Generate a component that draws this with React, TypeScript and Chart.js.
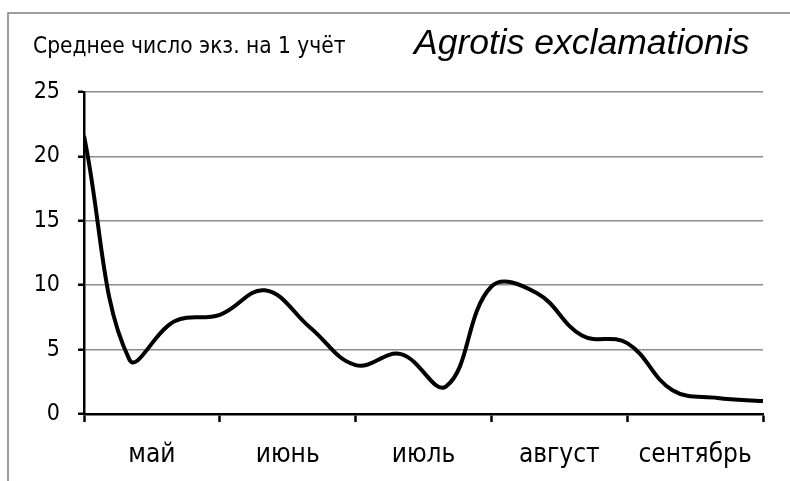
import React, { useEffect, useRef } from "react";
import { Chart, registerables } from "chart.js";

Chart.register(...registerables);

const yAxisTitle = "Среднее число экз. на 1 учёт";
const speciesTitle = "Agrotis exclamationis";
const monthLabels = ["май", "июнь", "июль", "август", "сентябрь"];
// observations, roughly every 10 days (3 per month), from start of May to end of September
const sampleIndex = [0, 1, 2, 3, 4, 5, 6, 7, 8, 9, 10, 11, 12, 13, 14, 15];
const meanCount = [21.6, 4.25, 7.2, 7.7, 9.6, 6.7, 3.8, 4.65, 2.15, 9.9, 9.4, 6.1, 5.5, 1.85, 1.25, 1.0];
const yTicks = [0, 5, 10, 15, 20, 25];

const NARROW = '"Liberation Sans Narrow", "DejaVu Sans Condensed", sans-serif';

export default function App() {
  const ref = useRef<HTMLCanvasElement>(null);
  useEffect(() => {
    if (!ref.current) return;
    const decor = {
      id: "decor",
      beforeDraw(chart: any) {
        const ctx = chart.ctx;
        ctx.save();
        ctx.fillStyle = "#ffffff";
        ctx.fillRect(0, 0, chart.width, chart.height);
        ctx.strokeStyle = "#7f7f7f";
        ctx.lineWidth = 1.5;
        ctx.beginPath();
        ctx.moveTo(8, chart.height);
        ctx.lineTo(8, 13);
        ctx.lineTo(chart.width, 13);
        ctx.stroke();
        ctx.fillStyle = "#000";
        ctx.textBaseline = "alphabetic";
        ctx.textAlign = "left";
        ctx.font = "22.5px " + NARROW;
        ctx.fillText(yAxisTitle, 33, 53);
        ctx.font = "italic 35.5px \"Liberation Sans\", Arial, sans-serif";
        ctx.fillText(speciesTitle, 414, 54);
        ctx.restore();
      },
    };
    const chart = new Chart(ref.current, {
      type: "line",
      data: {
        datasets: [
          {
            data: sampleIndex.map((x, i) => ({ x, y: meanCount[i] })),
            borderColor: "#000",
            borderWidth: 4,
            pointRadius: 0,
            tension: 0.4,
            xAxisID: "x",
            yAxisID: "y",
          },
        ],
      },
      options: {
        animation: false,
        responsive: false,
        maintainAspectRatio: false,
        layout: { padding: { top: 92, right: 27, left: 0, bottom: 0 } },
        plugins: { legend: { display: false }, tooltip: { enabled: false } },
        scales: {
          x: {
            type: "linear",
            position: "bottom",
            min: 0,
            max: 15,
            weight: 0,
            afterFit: (s: any) => { s.height = 10; },
            afterBuildTicks: (s: any) => {
              s.ticks = [0, 3, 6, 9, 12, 15].map((v) => ({ value: v }));
            },
            ticks: { display: false },
            grid: {
              drawOnChartArea: false,
              drawTicks: true,
              tickLength: 8,
              tickColor: "#000",
              tickWidth: 2.5,
            },
            border: { display: true, color: "#000", width: 2.5 },
          },
          xm: {
            type: "category",
            position: "bottom",
            labels: monthLabels,
            offset: true,
            weight: 1,
            afterFit: (s: any) => { s.height = 57; },
            grid: { display: false, drawTicks: false },
            border: { display: false },
            ticks: {
              color: "#000",
              font: { family: NARROW, size: 26 },
              padding: 16,
              maxRotation: 0,
              autoSkip: false,
            },
          },
          y: {
            min: 0,
            max: 25,
            afterFit: (s: any) => { s.width = 84; },
            afterBuildTicks: (s: any) => {
              s.ticks = yTicks.map((v) => ({ value: v }));
            },
            ticks: {
              color: "#000",
              font: { family: NARROW, size: 23 },
              padding: 18,
            },
            grid: {
              color: "#8c8c8c",
              lineWidth: 1.5,
              tickLength: 6,
              tickColor: "#000",
              tickWidth: 2.5,
            },
            border: { display: true, color: "#000", width: 2.5 },
          },
        },
      },
      plugins: [decor],
    });
    return () => chart.destroy();
  }, []);
  return (
    <div style={{ position: "fixed", left: 0, top: 0, width: 790, height: 481, background: "#fff" }}>
      <canvas ref={ref} width={790} height={481} style={{ width: 790, height: 481, display: "block" }} />
    </div>
  );
}
